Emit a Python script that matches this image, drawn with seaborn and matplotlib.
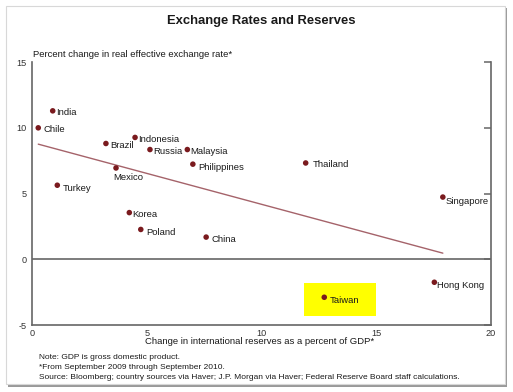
"""
Exchange rates vs. reserves scatter (recreation)
"""

import matplotlib
matplotlib.use("Agg")
import matplotlib.pyplot as plt
from matplotlib.patches import Rectangle
import seaborn as sns
import pandas as pd

# dados
countries = ["India", "Chile", "Brazil", "Indonesia", "Russia", "Malaysia",
             "Philippines", "Mexico", "Thailand", "Turkey", "Singapore",
             "Korea", "Poland", "China", "Hong Kong", "Taiwan"]
reserves_change = [0.89, 0.26, 3.21, 4.48, 5.13, 6.76,
                   7.00, 3.65, 11.92, 1.09, 17.90,
                   4.23, 4.73, 7.58, 17.53, 12.73]
reer_change = [11.29, 10.00, 8.81, 9.27, 8.35, 8.35,
               7.24, 6.95, 7.33, 5.64, 4.74,
               3.56, 2.28, 1.70, -1.73, -2.87]

# linha de tendência (extremos lidos)
trend_x = [0.26, 17.90]
trend_y = [8.76, 0.48]

x_ticks = [0, 5, 10, 15, 20]
y_ticks = [-5, 0, 5, 10, 15]

highlight = "Taiwan"

title = "Exchange Rates and Reserves"
y_title = "Percent change in real effective exchange rate*"
x_title = "Change in international reserves as a percent of GDP*"
notes = ["Note: GDP is gross domestic product.",
         "*From September 2009 through September 2010.",
         "Source: Bloomberg; country sources via Haver; J.P. Morgan via Haver; "
         "Federal Reserve Board staff calculations."]

df = pd.DataFrame({"country": countries, "reserves": reserves_change, "reer": reer_change})

sns.set_style("white")
plt.rcParams["font.family"] = ["Liberation Sans", "DejaVu Sans"]
plt.rcParams["axes.unicode_minus"] = False

# deslocamento dos rótulos em pixels (dx, dy para baixo)
label_offsets = {"India": (3, 2), "Chile": (5, 2), "Brazil": (4, 2), "Indonesia": (3, 2),
                 "Russia": (3, 2), "Malaysia": (3, 2), "Philippines": (5, 3),
                 "Mexico": (-3, 10), "Thailand": (7, 2), "Turkey": (5, 3),
                 "Singapore": (3, 4), "Korea": (3, 2), "Poland": (5, 3),
                 "China": (5, 2), "Hong Kong": (3, 3), "Taiwan": (5, 3)}

W, H = 513, 392
fig = plt.figure(figsize=(W / 100, H / 100), dpi=100)
fig.patch.set_facecolor("white")

# moldura com sombra
fig.add_artist(Rectangle((8 / W, 1 - 387 / H), 499 / W, 379 / H, transform=fig.transFigure,
                         facecolor="#9a9a9a", edgecolor="none", zorder=0))
fig.add_artist(Rectangle((6 / W, 1 - 384 / H), 499 / W, 378 / H, transform=fig.transFigure,
                         facecolor="white", edgecolor="#d8d8d8", lw=0.8, zorder=0.5))

ax = fig.add_axes([32.3 / W, 1 - 325.3 / H, (491 - 32.3) / W, (325.3 - 62) / H])
ax.set_facecolor("none")
ax.set_zorder(1)

# caixa amarela de destaque
hx = reserves_change[countries.index(highlight)]
hy = reer_change[countries.index(highlight)]
ax.add_patch(Rectangle((hx - 0.88, hy - 1.45), 3.14, 2.52, facecolor="#ffff00",
                       edgecolor="none", zorder=0))

ax.axhline(0, color="#666666", lw=1.2, zorder=1)
sns.lineplot(x=trend_x, y=trend_y, ax=ax, color="#a5636a", lw=1.0, zorder=2)
sns.scatterplot(data=df, x="reserves", y="reer", ax=ax, color="#7a1a1e",
                s=16, edgecolor="none", zorder=3)

for c, xv, yv in zip(countries, reserves_change, reer_change):
    dx, dy = label_offsets[c]
    ax.annotate(c, (xv, yv), xytext=(dx * 0.72, -dy * 0.72), textcoords="offset points",
                ha="left", va="center", fontsize=6.8, color="#1a1a1a", zorder=4)

ax.set_xlim(0, 20)
ax.set_ylim(-5, 15)
ax.set_xticks(x_ticks)
ax.set_yticks(y_ticks)
ax.set_xlabel("")
ax.set_ylabel("")

for side in ["left", "right", "bottom"]:
    ax.spines[side].set_color("#666666")
    ax.spines[side].set_linewidth(1.2)
ax.spines["top"].set_visible(False)

ax.tick_params(axis="both", direction="in", length=5, width=1.1, color="#666666",
               labelsize=6.6, labelcolor="#333333")
ax.tick_params(axis="y", right=True, labelright=False, pad=4)
ax.tick_params(axis="x", pad=3)

fig.text(261.5 / W, 1 - 21 / H, title, ha="center", va="center",
         fontsize=9.4, fontweight="bold", color="#1a1a1a")
fig.text(33 / W, 1 - 54.3 / H, y_title, ha="left", va="center", fontsize=6.8, color="#1a1a1a")
fig.text(260 / W, 1 - 341.7 / H, x_title, ha="center", va="center", fontsize=6.8, color="#1a1a1a")
for i, line in enumerate(notes):
    fig.text(39.3 / W, 1 - (357.3 + 9.9 * i) / H, line, ha="left", va="center",
             fontsize=6.0, color="#1a1a1a")

fig.savefig("out.png", dpi=100)
